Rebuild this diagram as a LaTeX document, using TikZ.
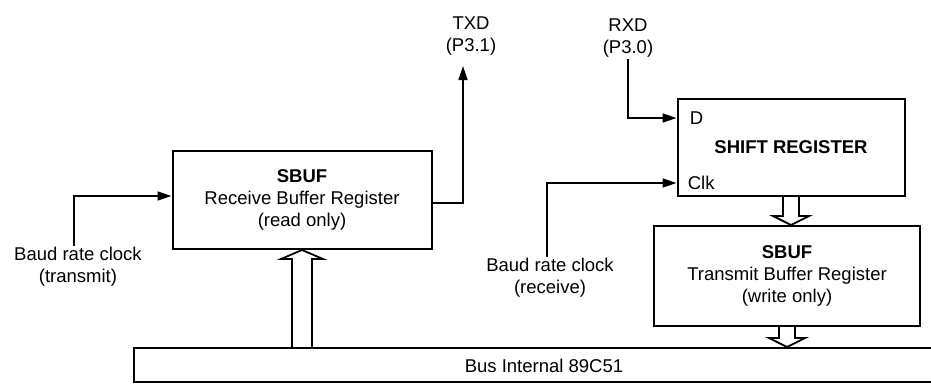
\documentclass[tikz,border=0pt]{standalone}
\usepackage{fontspec}
\setmainfont{Liberation Sans}
\usetikzlibrary{arrows.meta, positioning, calc}

\begin{document}
\begin{tikzpicture}[x=1pt, y=-1pt, line width=1.6pt,
    every node/.style={font=\fontsize{18.5}{22}\selectfont, inner sep=1pt},
    reg/.style={draw, line width=2pt, align=center},
    sig/.style={-{Triangle[length=14pt,width=9pt]}},
    fat/.style={line width=1.8pt, line join=miter}]
    \useasboundingbox (0,0) rectangle (931,389);

    \node[reg, minimum width=259pt, minimum height=98pt] (rbuf) at (302,200) {\textbf{SBUF}\\Receive Buffer Register\\(read only)};
    \node[reg, minimum width=227pt, minimum height=97pt] (shreg) at (791,147) {\textbf{SHIFT REGISTER}};
    \node[reg, minimum width=266pt, minimum height=100pt] (tbuf) at (787,276) {\textbf{SBUF}\\Transmit Buffer Register\\(write only)};
    \node[draw, line width=2pt, minimum width=820pt, minimum height=34pt, anchor=west] (bus) at (133,365) {};
    \node[anchor=west] (buslabel) at (463,366) {Bus Internal 89C51};

    \node[align=center] (txd) at (471,36) {TXD\\(P3.1)};
    \node[align=center] (rxd) at (628,38) {RXD\\(P3.0)};
    \node[align=center] (tclk) at (78,267) {Baud rate clock\\(transmit)};
    \node[align=center] (rclk) at (550,278) {Baud rate clock\\(receive)};
    \node[anchor=west] (dpin) at (688,118) {D};
    \node[anchor=west] (clk) at (686,183) {Clk};

    \coordinate (txdpin) at (463,66);
    \draw[sig] ($(rbuf.east)+(0,3)$) -| (txdpin);
    \draw[sig] (rxd.south) |- (shreg.west |- dpin);
    \draw[sig] ([xshift=-4pt]tclk.north) |- ($(rbuf.west)+(0,-4)$);
    \draw[sig] ([xshift=-3pt]rclk.north) |- (shreg.west |- clk);

    % bus transfers
    \draw[fat] ($(rbuf.south |- bus.north)+(-10,0)$) -- ($(rbuf.south)+(-10,9)$) -- ($(rbuf.south)+(-21,9)$) -- (rbuf.south)
        -- ($(rbuf.south)+(21,9)$) -- ($(rbuf.south)+(10,9)$) -- ($(rbuf.south |- bus.north)+(10,0)$);
    \draw[fat] ($(shreg.south)+(-8,0)$) -- ($(shreg.south |- tbuf.north)+(-8,-9)$) -- ($(shreg.south |- tbuf.north)+(-18,-9)$) -- (shreg.south |- tbuf.north)
        -- ($(shreg.south |- tbuf.north)+(18,-9)$) -- ($(shreg.south |- tbuf.north)+(8,-9)$) -- ($(shreg.south)+(8,0)$);
    \draw[fat] ($(tbuf.south)+(-8,0)$) -- ($(tbuf.south |- bus.north)+(-8,-9)$) -- ($(tbuf.south |- bus.north)+(-18,-9)$) -- (tbuf.south |- bus.north)
        -- ($(tbuf.south |- bus.north)+(18,-9)$) -- ($(tbuf.south |- bus.north)+(8,-9)$) -- ($(tbuf.south)+(8,0)$);
\end{tikzpicture}
\end{document}
